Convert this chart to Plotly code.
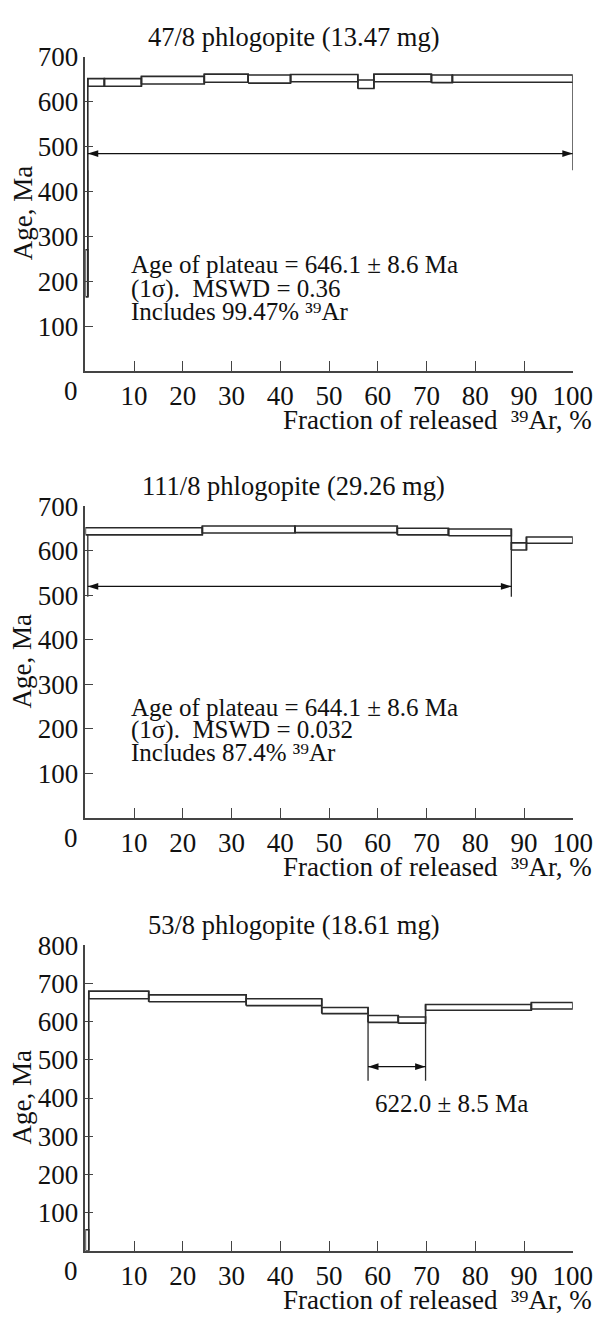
import plotly.graph_objects as go

# page is 615x1322 with the browser's 8px body margin around the figure
PAGE_W, PAGE_H, OFF = 615, 1322, 8
W, H = PAGE_W - OFF, PAGE_H - 2 * OFF
FONT = "Liberation Serif, Times New Roman, DejaVu Serif, serif"
INK = "#2b2b2b"
AX = "#444444"

# ---------------- data ----------------
titles = ["47/8 phlogopite (13.47 mg)", "111/8 phlogopite (29.26 mg)", "53/8 phlogopite (18.61 mg)"]

# panel 1: step edges (cumulative % 39Ar), lower / upper age (Ma)
edges1 = [0, 0.5, 3.9, 11.5, 24.4, 33.4, 42.1, 55.9, 59.2, 71.0, 75.3, 100]
lo1 = [165, 634, 634, 639, 643, 641, 644, 629, 644, 642, 643]
hi1 = [270, 651, 651, 656, 661, 659, 660, 648, 661, 659, 659]

# panel 2
edges2 = [0, 24.0, 43.0, 64.0, 74.5, 87.4, 90.5, 100]
lo2 = [636, 640, 641, 636, 634, 602, 617]
hi2 = [652, 656, 656, 651, 649, 618, 631]

# panel 3
edges3 = [0, 0.7, 13.0, 33.0, 48.5, 58.0, 64.2, 69.8, 91.5, 100]
lo3 = [0, 660, 652, 642, 621, 598, 596, 630, 633]
hi3 = [55, 680, 670, 660, 637, 616, 612, 645, 650]

# plateau markers
plat_start = [0.5, 0.5, 58.0]
plat_end = [100, 87.4, 69.8]
arrow_age = [484, 520, 482]
marker_low = [447, 497, 445]

y_max = [700, 700, 800]
y_ticks = [[100, 200, 300, 400, 500, 600, 700],
           [100, 200, 300, 400, 500, 600, 700],
           [100, 200, 300, 400, 500, 600, 700, 800]]
x_ticks = [10, 20, 30, 40, 50, 60, 70, 80, 90, 100]

x_title = "Fraction of released  \u00b3\u2079Ar, %"
texts1 = ["Age of plateau = 646.1 ± 8.6 Ma", "(1σ).  MSWD = 0.36", "Includes 99.47% \u00b3\u2079Ar"]
texts1_age = [236, 183, 132]
texts2 = ["Age of plateau = 644.1 ± 8.6 Ma", "(1σ).  MSWD = 0.032", "Includes 87.4% \u00b3\u2079Ar"]
texts2_age = [249, 198, 146]
text3 = "622.0 ± 8.5 Ma"
text3_pos = (59.0, 386)

# ---------------- layout geometry (page pixels) ----------------
x_px = (88, 592)
panels_px = [(42, 360), (497, 812), (941, 1250)]  # (top, bottom)
title_px = [22, 476, 920]


def px_x(p):
    return (p - OFF) / W


def px_y(p):
    return 1 - (p - OFF) / H


def box_path(edges, lo, hi):
    xs, ys = [], []
    for i in range(len(lo)):
        x0, x1 = edges[i], edges[i + 1]
        xs += [x0, x1, x1, x0, x0, None]
        ys += [lo[i], lo[i], hi[i], hi[i], lo[i], None]
    for i in range(len(lo) - 1):
        xb = edges[i + 1]
        xs += [xb, xb, None]
        ys += [min(lo[i], lo[i + 1]), max(hi[i], hi[i + 1]), None]
    return xs, ys


def low_at(edges, lo, x):
    cands = [lo[i] for i in range(len(lo)) if edges[i] <= x <= edges[i + 1]]
    return min(cands) if cands else lo[-1]


fig = go.Figure()
annotations = []
data_sets = [(edges1, lo1, hi1), (edges2, lo2, hi2), (edges3, lo3, hi3)]
TF = dict(family=FONT, size=27, color="#111")
HF = dict(family=FONT, size=26.5, color="#111")
AF = dict(family=FONT, size=25, color="#111")

for k, (edges, lo, hi) in enumerate(data_sets):
    n = "" if k == 0 else str(k + 1)
    xa, ya = "x" + n, "y" + n
    xs, ys = box_path(edges, lo, hi)
    fig.add_trace(go.Scatter(x=xs, y=ys, mode="lines", xaxis=xa, yaxis=ya,
                             line=dict(color=INK, width=1.6), hoverinfo="skip",
                             showlegend=False))
    mx, my = [], []
    for xv in (plat_start[k], plat_end[k]):
        mx += [xv, xv, None]
        my += [low_at(edges, lo, xv), marker_low[k], None]
    fig.add_trace(go.Scatter(x=mx, y=my, mode="lines", xaxis=xa, yaxis=ya,
                             line=dict(color=INK, width=1.3), hoverinfo="skip",
                             showlegend=False))
    # double-headed arrow
    fig.add_trace(go.Scatter(x=[plat_start[k], plat_end[k]], y=[arrow_age[k], arrow_age[k]],
                             mode="lines+markers", xaxis=xa, yaxis=ya,
                             line=dict(color="#111", width=1.2),
                             marker=dict(symbol="arrow", angle=[-90, 90], size=11, color="#111"),
                             hoverinfo="skip", showlegend=False))

    top, bot = panels_px[k]
    annotations.append(dict(x=px_x(303), y=px_y(title_px[k]), xref="paper", yref="paper",
                            text=titles[k], showarrow=False, xanchor="center", yanchor="middle",
                            font=HF))
    annotations.append(dict(x=px_x(23), y=px_y((top + bot) / 2), xref="paper", yref="paper",
                            text="Age, Ma", showarrow=False, textangle=-90,
                            xanchor="center", yanchor="middle", font=TF))
    annotations.append(dict(x=px_x(614), y=px_y(bot + 50), xref="paper", yref="paper",
                            text=x_title, showarrow=False,
                            xanchor="right", yanchor="middle", font=TF))
    annotations.append(dict(x=px_x(73), y=px_y(bot + 20), xref="paper", yref="paper",
                            text="0", showarrow=False, xanchor="center", yanchor="middle",
                            font=TF))

    fig.layout["xaxis" + n] = dict(domain=[px_x(x_px[0]), px_x(x_px[1])], range=[0, 100],
                                  anchor=ya, tickvals=x_ticks, ticks="inside", ticklen=10,
                                  tickwidth=1.3, tickcolor=AX, showline=True, linecolor=AX,
                                  linewidth=1.6, showgrid=False, zeroline=False,
                                  tickfont=TF)
    fig.layout["yaxis" + n] = dict(domain=[px_y(bot), px_y(top)], range=[0, y_max[k]],
                                  anchor=xa, tickvals=y_ticks[k], ticks="inside", ticklen=8,
                                  tickwidth=1.3, tickcolor=AX, showline=True, linecolor=AX,
                                  linewidth=1.6, showgrid=False, zeroline=False,
                                  ticklabelstandoff=0, tickfont=TF)

for t, age in zip(texts1, texts1_age):
    annotations.append(dict(x=9.0, y=age, xref="x", yref="y", text=t, showarrow=False,
                            xanchor="left", yanchor="middle", font=AF))
for t, age in zip(texts2, texts2_age):
    annotations.append(dict(x=9.0, y=age, xref="x2", yref="y2", text=t, showarrow=False,
                            xanchor="left", yanchor="middle", font=AF))
annotations.append(dict(x=text3_pos[0], y=text3_pos[1], xref="x3", yref="y3", text=text3,
                        showarrow=False, xanchor="left", yanchor="middle", font=AF))

fig.update_layout(width=W, height=H, margin=dict(l=0, r=0, t=0, b=0),
                  paper_bgcolor="white", plot_bgcolor="white",
                  annotations=annotations, showlegend=False)

fig.write_html("out.html")
